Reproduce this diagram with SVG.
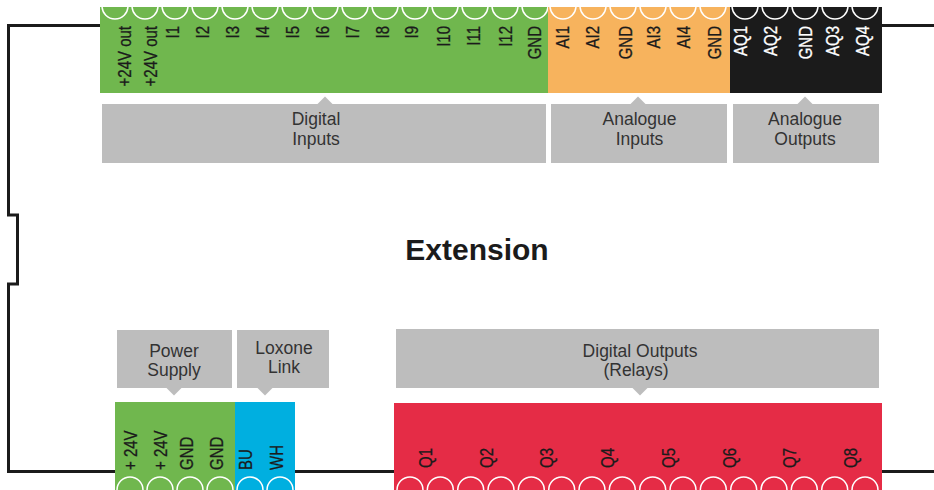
<svg xmlns="http://www.w3.org/2000/svg" width="934" height="490" viewBox="0 0 934 490">
<style>
.outline{fill:none;stroke:#1b1b1b;stroke-width:3}
.pin{fill:none;stroke:#ffffff;stroke-width:1.5}
.lbl{font-family:"Liberation Sans",Arial,sans-serif;font-size:15px;fill:#1b1b1b;stroke:#1b1b1b;stroke-width:0.25}
.lblw{font-family:"Liberation Sans",Arial,sans-serif;font-size:15px;fill:#ffffff;stroke:#ffffff;stroke-width:0.25}
.box{fill:#bdbdbd}
.boxt{font-family:"Liberation Sans",Arial,sans-serif;font-size:17.5px;fill:#333333;text-anchor:middle}
.title{font-family:"Liberation Sans",Arial,sans-serif;font-size:30px;font-weight:bold;fill:#1b1b1b;text-anchor:middle}
</style>
<defs>
<clipPath id="topclip"><rect x="100" y="7" width="782" height="86"/></clipPath>
<clipPath id="botclip"><rect x="115" y="402" width="767" height="88"/></clipPath>
</defs>
<rect width="934" height="490" fill="#ffffff"/>
<g id="housing">
<path class="outline" d="M100,25.5 H8.5 V215 H17.5 V284 H8.5 V471.5 H934"/>
<path class="outline" d="M882,25.5 H934"/>
</g>
<g id="connectors"></g>
<g id="digital-inputs-terminal">
<rect x="100" y="7" width="448" height="86" fill="#70b74e"/>
<g clip-path="url(#topclip)">
<circle class="pin" cx="115" cy="6" r="13"/><circle class="pin" cx="145" cy="6" r="13"/><circle class="pin" cx="175" cy="6" r="13"/><circle class="pin" cx="205" cy="6" r="13"/><circle class="pin" cx="235" cy="6" r="13"/><circle class="pin" cx="265" cy="6" r="13"/><circle class="pin" cx="295" cy="6" r="13"/><circle class="pin" cx="325" cy="6" r="13"/><circle class="pin" cx="355" cy="6" r="13"/><circle class="pin" cx="385" cy="6" r="13"/><circle class="pin" cx="415" cy="6" r="13"/><circle class="pin" cx="445" cy="6" r="13"/><circle class="pin" cx="475" cy="6" r="13"/><circle class="pin" cx="505" cy="6" r="13"/><circle class="pin" cx="535" cy="6" r="13"/>
</g>
<g class="lbl" text-anchor="end">
<text transform="translate(131.4,26) rotate(-90) scale(1,1.2)">+24V out</text>
<text transform="translate(156.9,26) rotate(-90) scale(1,1.2)">+24V out</text>
<text transform="translate(178.9,26) rotate(-90) scale(1,1.2)">I1</text>
<text transform="translate(208.9,26) rotate(-90) scale(1,1.2)">I2</text>
<text transform="translate(238.9,26) rotate(-90) scale(1,1.2)">I3</text>
<text transform="translate(269.4,26) rotate(-90) scale(1,1.2)">I4</text>
<text transform="translate(298.9,26) rotate(-90) scale(1,1.2)">I5</text>
<text transform="translate(329.4,26) rotate(-90) scale(1,1.2)">I6</text>
<text transform="translate(359.4,26) rotate(-90) scale(1,1.2)">I7</text>
<text transform="translate(388.9,26) rotate(-90) scale(1,1.2)">I8</text>
<text transform="translate(418.4,26) rotate(-90) scale(1,1.2)">I9</text>
<text transform="translate(449.9,26) rotate(-90) scale(1,1.2)">I10</text>
<text transform="translate(479.9,26) rotate(-90) scale(1,1.2)">I11</text>
<text transform="translate(512.4,26) rotate(-90) scale(1,1.2)">I12</text>
<text transform="translate(541.4,26) rotate(-90) scale(1,1.2)">GND</text>
</g>
</g>
<g id="analogue-inputs-terminal">
<rect x="548" y="7" width="182" height="86" fill="#f7b35d"/>
<g clip-path="url(#topclip)">
<circle class="pin" cx="563" cy="6" r="13"/><circle class="pin" cx="593" cy="6" r="13"/><circle class="pin" cx="623" cy="6" r="13"/><circle class="pin" cx="653" cy="6" r="13"/><circle class="pin" cx="683" cy="6" r="13"/><circle class="pin" cx="713" cy="6" r="13"/>
</g>
<g class="lbl" text-anchor="end">
<text transform="translate(568.9,26) rotate(-90) scale(1,1.2)">AI1</text>
<text transform="translate(598.9,26) rotate(-90) scale(1,1.2)">AI2</text>
<text transform="translate(632.4,26) rotate(-90) scale(1,1.2)">GND</text>
<text transform="translate(660.4,26) rotate(-90) scale(1,1.2)">AI3</text>
<text transform="translate(690.4,26) rotate(-90) scale(1,1.2)">AI4</text>
<text transform="translate(721.4,26) rotate(-90) scale(1,1.2)">GND</text>
</g>
</g>
<g id="analogue-outputs-terminal">
<rect x="730" y="7" width="152" height="86" fill="#1b1b1b"/>
<g clip-path="url(#topclip)">
<circle class="pin" cx="745" cy="6" r="13"/><circle class="pin" cx="775" cy="6" r="13"/><circle class="pin" cx="805" cy="6" r="13"/><circle class="pin" cx="835" cy="6" r="13"/><circle class="pin" cx="865" cy="6" r="13"/>
</g>
<g class="lblw" text-anchor="end">
<text transform="translate(747.4,26) rotate(-90) scale(1,1.2)">AQ1</text>
<text transform="translate(777.4,26) rotate(-90) scale(1,1.2)">AQ2</text>
<text transform="translate(812.4,26) rotate(-90) scale(1,1.2)">GND</text>
<text transform="translate(838.9,26) rotate(-90) scale(1,1.2)">AQ3</text>
<text transform="translate(868.9,26) rotate(-90) scale(1,1.2)">AQ4</text>
</g>
</g>
<g id="label-digital-inputs">
<rect class="box" x="102" y="104" width="444" height="59"/>
<polygon class="box" points="317,104.5 325,96.5 333,104.5"/>
<text class="boxt" x="316" y="125">Digital</text>
<text class="boxt" x="316" y="145">Inputs</text>
</g>
<g id="label-analogue-inputs">
<rect class="box" x="551" y="104" width="176" height="59"/>
<polygon class="box" points="630,104.5 638,96.5 646,104.5"/>
<text class="boxt" x="639.5" y="125">Analogue</text>
<text class="boxt" x="639.5" y="145">Inputs</text>
</g>
<g id="label-analogue-outputs">
<rect class="box" x="733" y="104" width="146" height="59"/>
<polygon class="box" points="797,104.5 805,96.5 813,104.5"/>
<text class="boxt" x="805" y="125">Analogue</text>
<text class="boxt" x="805" y="145">Outputs</text>
</g>
<g id="extension">
<text class="title" x="477" y="260">Extension</text>
</g>
<g id="label-power-supply">
<rect class="box" x="117" y="330" width="115" height="58"/>
<polygon class="box" points="166,387.5 174,395.5 182,387.5"/>
<text class="boxt" x="174" y="357">Power</text>
<text class="boxt" x="174" y="376">Supply</text>
</g>
<g id="label-loxone-link">
<rect class="box" x="237" y="330" width="92" height="58"/>
<polygon class="box" points="257,387.5 265,395.5 273,387.5"/>
<text class="boxt" x="284" y="354">Loxone</text>
<text class="boxt" x="284" y="372.5">Link</text>
</g>
<g id="label-digital-outputs">
<rect class="box" x="396" y="329" width="483" height="59"/>
<polygon class="box" points="632,387.5 640,395.5 648,387.5"/>
<text class="boxt" x="640" y="357">Digital Outputs</text>
<text class="boxt" x="636" y="376">(Relays)</text>
</g>
<g id="power-supply-terminal">
<rect x="115" y="402" width="120" height="88" fill="#70b74e"/>
<g clip-path="url(#botclip)">
<circle class="pin" cx="130" cy="490" r="13"/><circle class="pin" cx="160" cy="490" r="13"/><circle class="pin" cx="190" cy="490" r="13"/><circle class="pin" cx="220" cy="490" r="13"/>
</g>
<g class="lbl">
<text transform="translate(137.4,470) rotate(-90) scale(1,1.2)">+ 24V</text>
<text transform="translate(167.4,470) rotate(-90) scale(1,1.2)">+ 24V</text>
<text transform="translate(193.4,470) rotate(-90) scale(1,1.2)">GND</text>
<text transform="translate(223.4,470) rotate(-90) scale(1,1.2)">GND</text>
</g>
</g>
<g id="loxone-link-terminal">
<rect x="235" y="402" width="60" height="88" fill="#00afe0"/>
<g clip-path="url(#botclip)">
<circle class="pin" cx="250" cy="490" r="13"/><circle class="pin" cx="280" cy="490" r="13"/>
</g>
<g class="lbl">
<text transform="translate(252.4,470) rotate(-90) scale(1,1.2)">BU</text>
<text transform="translate(283.4,470) rotate(-90) scale(1,1.2)">WH</text>
</g>
</g>
<g id="digital-outputs-terminal">
<rect x="394" y="403" width="488" height="87" fill="#e52c46"/>
<g clip-path="url(#botclip)">
<circle class="pin" cx="410" cy="490" r="13"/><circle class="pin" cx="440.3" cy="490" r="13"/><circle class="pin" cx="470.7" cy="490" r="13"/><circle class="pin" cx="501" cy="490" r="13"/><circle class="pin" cx="531.3" cy="490" r="13"/><circle class="pin" cx="561.7" cy="490" r="13"/><circle class="pin" cx="592" cy="490" r="13"/><circle class="pin" cx="622.3" cy="490" r="13"/><circle class="pin" cx="652.7" cy="490" r="13"/><circle class="pin" cx="683" cy="490" r="13"/><circle class="pin" cx="713.3" cy="490" r="13"/><circle class="pin" cx="743.7" cy="490" r="13"/><circle class="pin" cx="774" cy="490" r="13"/><circle class="pin" cx="804.3" cy="490" r="13"/><circle class="pin" cx="834.7" cy="490" r="13"/><circle class="pin" cx="865" cy="490" r="13"/>
</g>
<g class="lbl">
<text transform="translate(432.4,468) rotate(-90) scale(1,1.2)">Q1</text>
<text transform="translate(493.4,468) rotate(-90) scale(1,1.2)">Q2</text>
<text transform="translate(553.4,468) rotate(-90) scale(1,1.2)">Q3</text>
<text transform="translate(614.4,468) rotate(-90) scale(1,1.2)">Q4</text>
<text transform="translate(675.4,468) rotate(-90) scale(1,1.2)">Q5</text>
<text transform="translate(736.4,468) rotate(-90) scale(1,1.2)">Q6</text>
<text transform="translate(796.4,468) rotate(-90) scale(1,1.2)">Q7</text>
<text transform="translate(857.4,468) rotate(-90) scale(1,1.2)">Q8</text>
</g>
</g>
</svg>
